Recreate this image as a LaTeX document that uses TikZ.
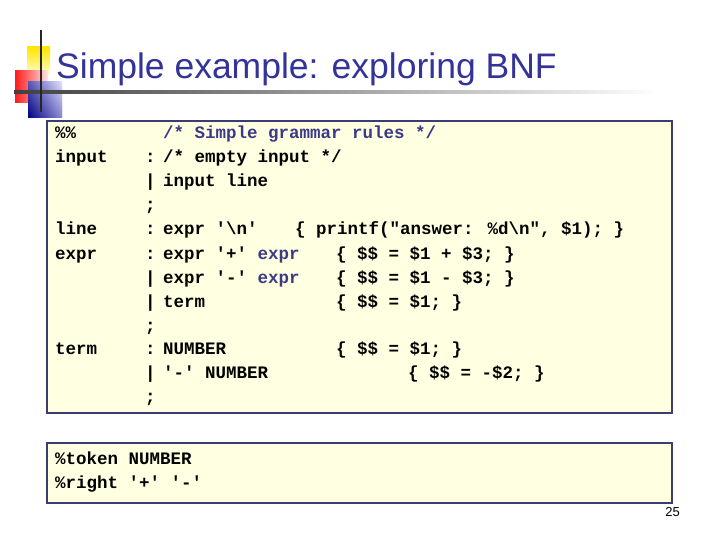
\documentclass[tikz,border=0pt]{standalone}
\usepackage{fontspec}
\setmainfont{Liberation Sans}
\newfontfamily\cmono{Liberation Mono}
\definecolor{titleblue}{HTML}{333399}
\definecolor{codeblue}{HTML}{3A3A88}
\definecolor{boxfill}{HTML}{FFFFE1}
\definecolor{boxline}{HTML}{3C3C6E}
\begin{document}
\begin{tikzpicture}[x=1pt,y=-1pt,
  code/.style={anchor=base west,inner sep=0pt,font=\cmono\bfseries\fontsize{17.5}{20}\selectfont},
  box/.style={draw=boxline,line width=2.2pt,fill=boxfill}]
\useasboundingbox (0,0) rectangle (720,540);
\fill[white] (0,0) rectangle (720,540);
% logo
\shade[top color=yellow!80!orange,bottom color=yellow!20] (27,47) rectangle (50,75);
\shade[left color=red!90, right color=red!10] (15,71) rectangle (48,103);
\shade[top color=blue!15!white,bottom color=blue!55!black] (28,82) rectangle (62,118);
\shade[left color=blue!50!black,right color=blue!10!white,opacity=0.6] (28,82) rectangle (62,118);
\shade[left color=black!75,right color=white] (14,90.8) rectangle (660,93.2);
\draw[line width=2.5pt,black!85] (41,30) -- (41,112);
\node[anchor=base west,inner sep=0pt,text=titleblue,font=\fontsize{35.5}{40}\selectfont] (title) at (56,79) {Simple example: exploring BNF};
% main box
\draw[box] (47,121) rectangle (672,413);
\node[code] (a1) at (55,139) {\%\%};
\node[code,text=codeblue] (a2) at (163,139) {/* Simple grammar rules */};
\node[code] (b1) at (55,163) {input};
\node[code] (b0) at (145,163) {:};
\node[code] (b2) at (163,163) {/* empty input */};
\node[code] (c0) at (145,187) {|};
\node[code] (c2) at (163,187) {input line};
\node[code] (d0) at (145,211) {;};
\node[code] (e1) at (55,235) {line};
\node[code] (e0) at (145,235) {:};
\node[code] (e2) at (163,235) {expr '\textbackslash n'};
\node[code] (e3) at (295,235) {\{ printf("answer: \%d\textbackslash n", \$1); \}};
\node[code] (f1) at (55,259) {expr};
\node[code] (f0) at (145,259) {:};
\node[code] (f2) at (163,259) {expr '+' \textcolor{codeblue}{expr}};
\node[code] (f3) at (336,259) {\{ \$\$ = \$1 + \$3; \}};
\node[code] (g0) at (145,283) {|};
\node[code] (g2) at (163,283) {expr '-' \textcolor{codeblue}{expr}};
\node[code] (g3) at (336,283) {\{ \$\$ = \$1 - \$3; \}};
\node[code] (h0) at (145,307) {|};
\node[code] (h2) at (163,307) {term};
\node[code] (h3) at (336,307) {\{ \$\$ = \$1; \}};
\node[code] (i0) at (145,331) {;};
\node[code] (j1) at (55,354) {term};
\node[code] (j0) at (145,354) {:};
\node[code] (j2) at (163,354) {NUMBER};
\node[code] (j3) at (336,354) {\{ \$\$ = \$1; \}};
\node[code] (k0) at (145,378) {|};
\node[code] (k2) at (163,378) {'-' NUMBER};
\node[code] (k3) at (408,378) {\{ \$\$ = -\$2; \}};
\node[code] (l0) at (145,402) {;};
% second box
\draw[box] (47,443) rectangle (672,503);
\node[code] (m1) at (55,464) {\%token NUMBER};
\node[code] (n1) at (55,488) {\%right '+' '-'};
\node[anchor=base east,inner sep=0pt,font=\fontsize{13}{15}\selectfont] (pg) at (680,516) {25};
\end{tikzpicture}
\end{document}
